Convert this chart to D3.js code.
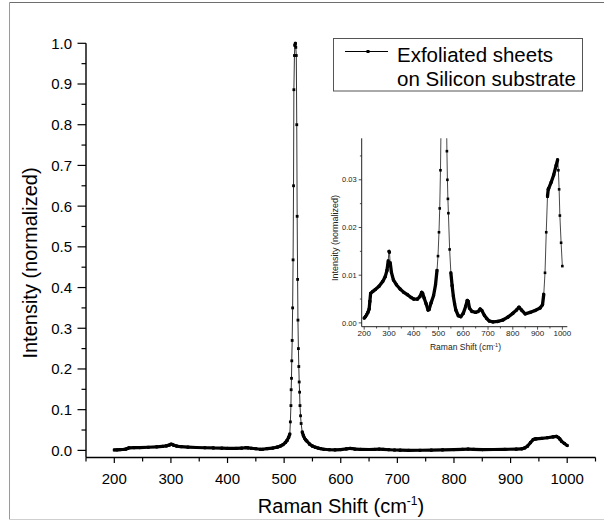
<!DOCTYPE html>
<html>
<head>
<meta charset="utf-8">
<script src="https://cdn.jsdelivr.net/npm/d3@7"></script>
<style>
  body { margin: 0; background: #fff; }
  svg { display: block; font-family: "Liberation Sans", Arial, sans-serif; }
</style>
</head>
<body>
<div id="chart"></div>
<script>
// DATA ***********************************************
var ramanShift = [200, 205, 210, 215, 220, 223, 226, 235, 245, 260, 275, 285, 292, 297, 300, 302, 305, 310,
  318, 330, 345, 360, 375, 390, 400, 415, 425, 432, 436, 442, 450, 458, 462, 470, 480, 488, 494, 498,
  502, 505, 508, 510, 511, 512, 512.4, 513, 513.5, 514.2, 515, 515.8, 516.6, 517.2, 518.2, 519, 519.8,
  520.6, 521.5, 522.3, 523, 523.8, 524.4, 525.2, 525.9, 526.6, 527.3, 528, 529, 530, 532, 534, 536, 538,
  540, 545, 550, 555, 560, 565, 570, 580, 590, 600, 610, 616, 620, 625, 635, 650, 660, 668, 675, 685,
  695, 705, 720, 740, 760, 780, 800, 815, 825, 835, 850, 870, 890, 910, 920, 925, 930, 935, 940, 943,
  945, 955, 965, 975, 981, 984, 987, 990, 995, 1000];
var intensity = [0.0010, 0.0013, 0.0017, 0.0022, 0.0029, 0.0045, 0.0062, 0.0066, 0.0070, 0.0077, 0.0087,
  0.0097, 0.0110, 0.0130, 0.0150, 0.0148, 0.0126, 0.0106, 0.0090, 0.0080, 0.0071, 0.0064, 0.0059,
  0.0053, 0.0050, 0.0050, 0.0055, 0.0064, 0.0062, 0.0052, 0.0040, 0.0027, 0.0028, 0.0042, 0.0057,
  0.0080, 0.0110, 0.0140, 0.0190, 0.0240, 0.0320, 0.0400, 0.070, 0.110, 0.149, 0.177, 0.220, 0.270,
  0.350, 0.468, 0.650, 0.886, 0.970, 0.995, 1.000, 0.990, 0.970, 0.800, 0.575, 0.420, 0.320, 0.250,
  0.206, 0.168, 0.143, 0.110, 0.085, 0.066, 0.045, 0.036, 0.030, 0.026, 0.023, 0.0154, 0.0105, 0.0078,
  0.0056, 0.0040, 0.0027, 0.0015, 0.0013, 0.0020, 0.0035, 0.0047, 0.0045, 0.0031, 0.0024, 0.0022,
  0.0024, 0.0029, 0.0026, 0.0016, 0.0009, 0.0004, 0.0002, 0.0003, 0.0006, 0.0012, 0.0020, 0.0027,
  0.0033, 0.0027, 0.0019, 0.0022, 0.0026, 0.0031, 0.0038, 0.0060, 0.0105, 0.0190, 0.0265, 0.0280,
  0.0282, 0.0295, 0.0310, 0.0330, 0.0342, 0.0320, 0.0280, 0.0225, 0.0168, 0.0119];

var mainXTicks = [200, 300, 400, 500, 600, 700, 800, 900, 1000];
var mainYTicks = [0.0, 0.1, 0.2, 0.3, 0.4, 0.5, 0.6, 0.7, 0.8, 0.9, 1.0];
var insetXTicks = [200, 300, 400, 500, 600, 700, 800, 900, 1000];
var insetYTicks = [0.00, 0.01, 0.02, 0.03];
var legendLines = ["Exfoliated sheets", "on Silicon substrate"];

var data = ramanShift.map(function (x, i) { return { x: x, y: intensity[i] }; });

// SVG ***********************************************
var width = 604, height = 521;
var svg = d3.select("#chart").append("svg")
  .attr("width", width)
  .attr("height", height);

// frame
svg.append("line").attr("x1", 9.5).attr("y1", 2.5).attr("x2", 604).attr("y2", 2.5)
  .attr("stroke", "#6e6e6e").attr("stroke-width", 1);
svg.append("line").attr("x1", 9.5).attr("y1", 2.5).attr("x2", 9.5).attr("y2", 519.5)
  .attr("stroke", "#9a9a9a").attr("stroke-width", 1);
svg.append("line").attr("x1", 9.5).attr("y1", 519.5).attr("x2", 604).attr("y2", 519.5)
  .attr("stroke", "#cfcfcf").attr("stroke-width", 1);

// draws the series: thin line + thick parts where markers pile up + markers
function drawSeries(g, x, y, opt) {
  g.append("path")
    .datum(data)
    .attr("fill", "none")
    .attr("stroke", "#333")
    .attr("stroke-width", opt.thin)
    .attr("d", d3.line().x(d => x(d.x)).y(d => y(d.y)));

  var segs = [];
  for (var i = 1; i < data.length; i++) {
    var a = data[i - 1], b = data[i];
    var slope = Math.abs(y(b.y) - y(a.y)) / (b.x - a.x);
    if (slope < 3) segs.push([a, b]);
  }
  g.selectAll(".thick").data(segs).enter().append("line")
    .attr("class", "thick")
    .attr("x1", d => x(d[0].x)).attr("y1", d => y(d[0].y))
    .attr("x2", d => x(d[1].x)).attr("y2", d => y(d[1].y))
    .attr("stroke", "#000")
    .attr("stroke-width", opt.thick)
    .attr("stroke-linecap", "round");

  g.selectAll(".pt").data(data).enter().append("rect")
    .attr("class", "pt")
    .attr("x", d => x(d.x) - opt.m / 2)
    .attr("y", d => y(d.y) - opt.m / 2)
    .attr("width", opt.m).attr("height", opt.m)
    .attr("fill", "#000");
}

// MAIN PLOT ***********************************************
var x = d3.scaleLinear().domain([150, 1050]).range([86, 595.5]);
var y = d3.scaleLinear().domain([-0.0175, 1.0]).range([457.5, 43.3]);

var main = svg.append("g");
drawSeries(main, x, y, { thin: 1, thick: 3.2, m: 2.8 });

// x axis
var xAx = main.append("g").attr("transform", "translate(0," + y.range()[0] + ")");
xAx.append("line").attr("x1", x.range()[0]).attr("x2", x.range()[1])
  .attr("stroke", "#000").attr("stroke-width", 1.4);
xAx.selectAll(".minor").data(d3.range(150, 1051, 100)).enter().append("line")
  .attr("x1", d => x(d)).attr("x2", d => x(d)).attr("y1", 0).attr("y2", 4)
  .attr("stroke", "#000").attr("stroke-width", 1.2);
xAx.selectAll(".major").data(mainXTicks).enter().append("line")
  .attr("x1", d => x(d)).attr("x2", d => x(d)).attr("y1", 0).attr("y2", 5.5)
  .attr("stroke", "#000").attr("stroke-width", 1.2);
xAx.selectAll("text").data(mainXTicks).enter().append("text")
  .attr("x", d => x(d)).attr("y", 26.5)
  .attr("text-anchor", "middle")
  .attr("font-size", 15)
  .attr("fill", "#000")
  .text(d => d);

// y axis
var yAx = main.append("g").attr("transform", "translate(" + x.range()[0] + ",0)");
yAx.append("line").attr("y1", y(1.0)).attr("y2", y.range()[0])
  .attr("stroke", "#000").attr("stroke-width", 1.4);
yAx.selectAll(".minor").data(d3.range(0.05, 1.0, 0.1)).enter().append("line")
  .attr("y1", d => y(d)).attr("y2", d => y(d)).attr("x1", 0).attr("x2", -4.5)
  .attr("stroke", "#000").attr("stroke-width", 1.2);
yAx.selectAll(".major").data(mainYTicks).enter().append("line")
  .attr("y1", d => y(d)).attr("y2", d => y(d)).attr("x1", 0).attr("x2", -8.5)
  .attr("stroke", "#000").attr("stroke-width", 1.2);
yAx.selectAll("text").data(mainYTicks).enter().append("text")
  .attr("x", -14).attr("y", d => y(d)).attr("dy", "0.36em")
  .attr("text-anchor", "end")
  .attr("font-size", 15)
  .attr("fill", "#000")
  .text(d => d.toFixed(1));

// axis titles
var xTitle = main.append("text")
  .attr("x", 341).attr("y", 512.5)
  .attr("text-anchor", "middle")
  .attr("font-size", 20)
  .attr("fill", "#000");
xTitle.append("tspan").text("Raman Shift (cm");
xTitle.append("tspan").attr("font-size", 12).attr("dy", -8).text("-1");
xTitle.append("tspan").attr("dy", 8).text(")");

main.append("text")
  .attr("transform", "translate(37,263) rotate(-90)")
  .attr("text-anchor", "middle")
  .attr("font-size", 20)
  .attr("fill", "#000")
  .text("Intensity (normalized)");

// legend
var leg = svg.append("g");
leg.append("rect").attr("x", 333.5).attr("y", 38.5).attr("width", 249).attr("height", 52.5)
  .attr("fill", "#fff").attr("stroke", "#555").attr("stroke-width", 1);
leg.append("line").attr("x1", 345).attr("x2", 388).attr("y1", 51.5).attr("y2", 51.5)
  .attr("stroke", "#000").attr("stroke-width", 1);
leg.append("rect").attr("x", 366.5).attr("y", 50).attr("width", 3).attr("height", 3).attr("fill", "#000");
leg.selectAll("text").data(legendLines).enter().append("text")
  .attr("x", 397).attr("y", (d, i) => 61.5 + i * 24.5)
  .attr("font-size", 20.5)
  .attr("fill", "#000")
  .text(d => d);

// INSET ***********************************************
var xi = d3.scaleLinear().domain([190, 1020]).range([361.7, 567.3]);
var yi = d3.scaleLinear().domain([-0.0008, 0.0387]).range([326.7, 138.3]);

svg.append("clipPath").attr("id", "insetClip")
  .append("rect").attr("x", 355).attr("y", yi.range()[1]).attr("width", 220).attr("height", 200);

var inset = svg.append("g");
var insetData = inset.append("g").attr("clip-path", "url(#insetClip)");
drawSeries(insetData, xi, yi, { thin: 0.9, thick: 3.3, m: 2.6 });

var ixAx = inset.append("g").attr("transform", "translate(0," + yi.range()[0] + ")");
ixAx.append("line").attr("x1", xi.range()[0]).attr("x2", xi.range()[1])
  .attr("stroke", "#222").attr("stroke-width", 1);
ixAx.selectAll(".minor").data(d3.range(250, 1001, 100)).enter().append("line")
  .attr("x1", d => xi(d)).attr("x2", d => xi(d)).attr("y1", 0).attr("y2", 1.8)
  .attr("stroke", "#222").attr("stroke-width", 0.8);
ixAx.selectAll(".major").data(insetXTicks).enter().append("line")
  .attr("x1", d => xi(d)).attr("x2", d => xi(d)).attr("y1", 0).attr("y2", 3)
  .attr("stroke", "#222").attr("stroke-width", 0.8);
ixAx.selectAll("text").data(insetXTicks).enter().append("text")
  .attr("x", d => xi(d)).attr("y", 9)
  .attr("text-anchor", "middle")
  .attr("font-size", 8)
  .attr("fill", "#222")
  .text(d => d);

var iyAx = inset.append("g").attr("transform", "translate(" + xi.range()[0] + ",0)");
iyAx.append("line").attr("y1", yi.range()[1]).attr("y2", yi.range()[0])
  .attr("stroke", "#222").attr("stroke-width", 1);
iyAx.selectAll(".minor").data([0.005, 0.015, 0.025, 0.035]).enter().append("line")
  .attr("y1", d => yi(d)).attr("y2", d => yi(d)).attr("x1", 0).attr("x2", -1.8)
  .attr("stroke", "#222").attr("stroke-width", 0.8);
iyAx.selectAll(".major").data(insetYTicks).enter().append("line")
  .attr("y1", d => yi(d)).attr("y2", d => yi(d)).attr("x1", 0).attr("x2", -3)
  .attr("stroke", "#222").attr("stroke-width", 0.8);
iyAx.selectAll("text").data(insetYTicks).enter().append("text")
  .attr("x", -5).attr("y", d => yi(d)).attr("dy", "0.35em")
  .attr("text-anchor", "end")
  .attr("font-size", 7.5)
  .attr("fill", "#222")
  .text(d => d.toFixed(2));

var ixTitle = inset.append("text")
  .attr("x", 465.5).attr("y", 350)
  .attr("text-anchor", "middle")
  .attr("font-size", 8.5)
  .attr("fill", "#222");
ixTitle.append("tspan").text("Raman Shift (cm");
ixTitle.append("tspan").attr("font-size", 5.5).attr("dy", -3.5).text("-1");
ixTitle.append("tspan").attr("dy", 3.5).text(")");

inset.append("text")
  .attr("transform", "translate(338,238) rotate(-90)")
  .attr("text-anchor", "middle")
  .attr("font-size", 9)
  .attr("fill", "#222")
  .text("Intensity (normalized)");
</script>
</body>
</html>
